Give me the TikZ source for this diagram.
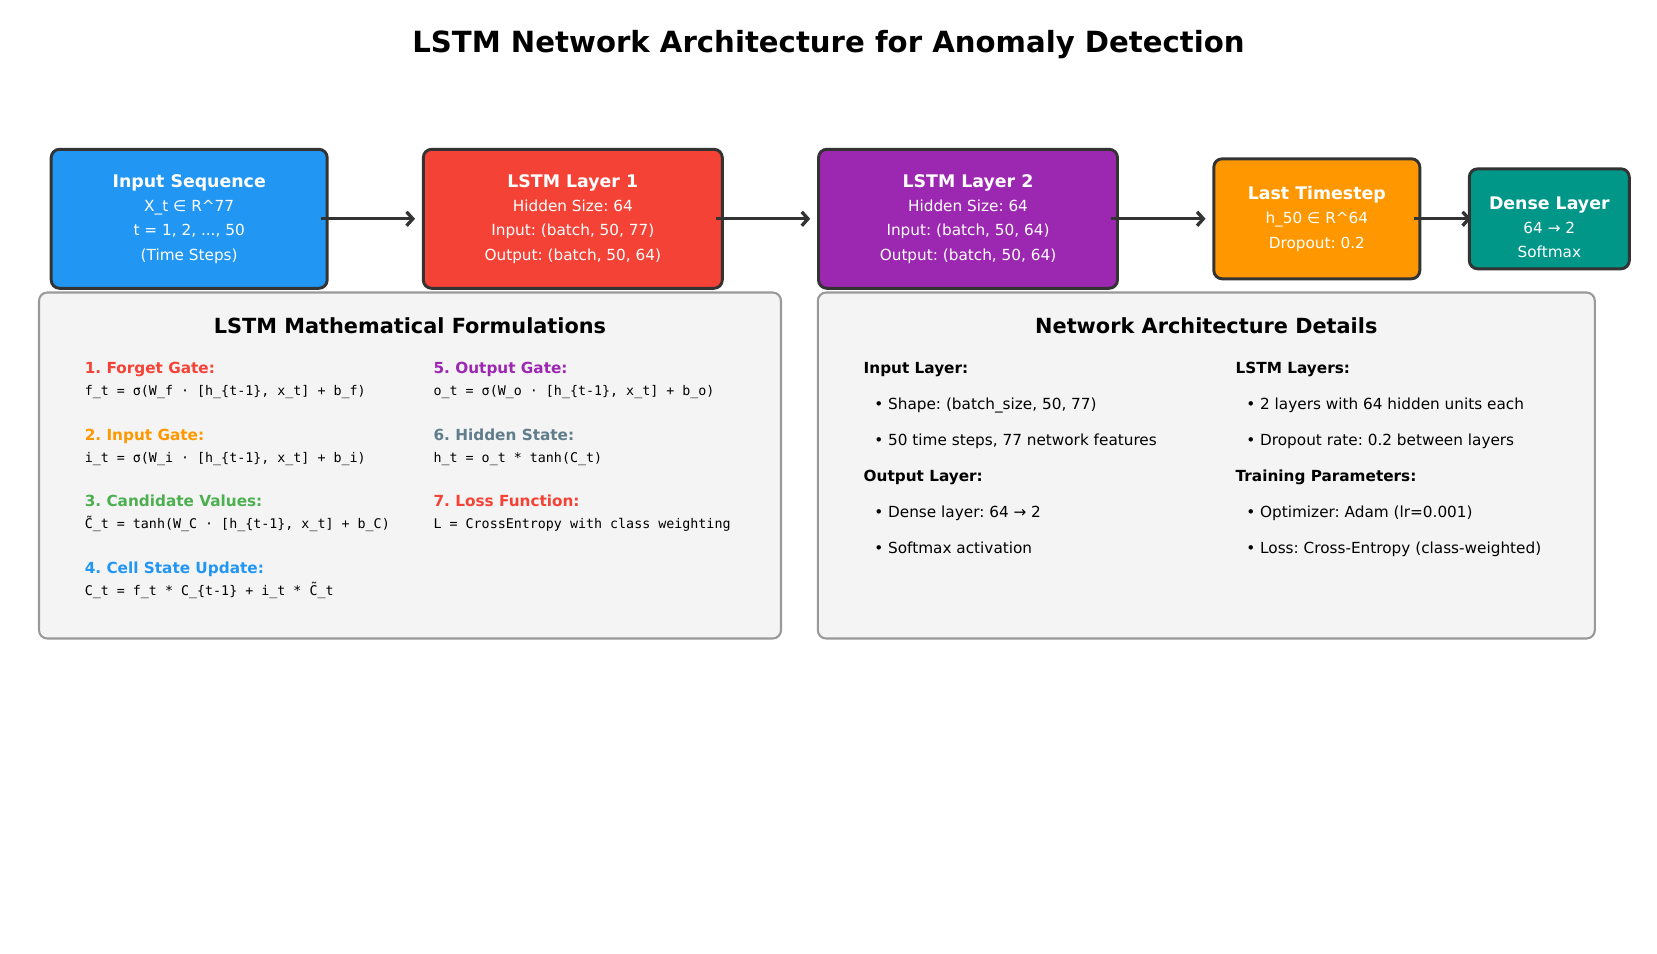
\documentclass[tikz,border=0pt]{standalone}
\usepackage{fontspec}
\setmainfont{DejaVu Sans}
\setmonofont{DejaVu Sans Mono}
\usepackage{tikz}
\usetikzlibrary{arrows.meta}
\frenchspacing

\definecolor{inblue}{HTML}{2196F3}
\definecolor{lstmred}{HTML}{F44336}
\definecolor{lstmpurple}{HTML}{9C27B0}
\definecolor{steporange}{HTML}{FF9800}
\definecolor{denseteal}{HTML}{009688}
\definecolor{candgreen}{HTML}{4CAF50}
\definecolor{hidgrey}{HTML}{607D8B}
\definecolor{edgedark}{HTML}{333333}
\definecolor{panelfill}{HTML}{F4F4F4}
\definecolor{paneledge}{HTML}{999999}

\newdimen\px \px=0.72pt
\newcommand{\laytitle}[1]{{\bfseries\fontsize{12.5}{17.5}\selectfont #1}}

\begin{document}
\begin{tikzpicture}[
    x=0.72pt, y=-0.72pt,
    layer/.style={draw=edgedark, line width=2.1pt, rounded corners=6pt, text=white, align=center,
                  inner sep=0pt, font=\fontsize{11}{17.5}\selectfont},
    laytext/.style={text=white, align=center, inner sep=0pt, font=\fontsize{11}{17.5}\selectfont},
    panel/.style={draw=paneledge, fill=panelfill, line width=1.5pt, rounded corners=6pt, inner sep=0pt},
    ptitle/.style={font=\bfseries\fontsize{15}{18}\selectfont},
    gate/.style={anchor=west, inner sep=0pt, text height=8.4pt, text depth=2.6pt,
                 font=\bfseries\fontsize{11}{13}\selectfont},
    eqn/.style={anchor=west, inner sep=0pt, text height=7.3pt, text depth=2.3pt,
                font=\ttfamily\fontsize{9.6}{12}\selectfont},
    detail/.style={anchor=west, inner sep=0pt, text height=8.4pt, text depth=2.6pt,
                   font=\fontsize{11}{13}\selectfont},
    flow/.style={draw=edgedark, line width=2.4pt, -{Straight Barb[length=4.5pt,width=10pt]}},
  ]
    \useasboundingbox (0,0) rectangle (1657,953);

    \node[font=\bfseries\fontsize{21}{25}\selectfont] (title) at (828.5,45)
      {LSTM Network Architecture for Anomaly Detection};

    % ---------- layer pipeline ----------
    \node[layer, fill=inblue, minimum width=276\px, minimum height=139\px] (inp) at (189.2,218.8)
      {\laytitle{Input Sequence}\\X\_t ∈ R\textasciicircum77\\t = 1, 2, ..., 50\\(Time Steps)};
    \node[layer, fill=lstmred, minimum width=299\px, minimum height=139\px] (l1) at (572.8,218.8)
      {\laytitle{LSTM Layer 1}\\Hidden Size: 64\\Input: (batch, 50, 77)\\Output: (batch, 50, 64)};
    \node[layer, fill=lstmpurple, minimum width=299\px, minimum height=139\px] (l2) at (968.0,218.8)
      {\laytitle{LSTM Layer 2}\\Hidden Size: 64\\Input: (batch, 50, 64)\\Output: (batch, 50, 64)};
    \node[layer, fill=steporange, minimum width=206\px, minimum height=120\px] (last) at (1316.8,218.8)
      {\laytitle{Last Timestep}\\h\_50 ∈ R\textasciicircum64\\Dropout: 0.2};
    \node[layer, fill=denseteal, minimum width=160\px, minimum height=100\px] (dense) at (1549.3,218.8) {};
    \node[laytext] (densetxt) at (1549.3,227.3) {\laytitle{Dense Layer}\\64 → 2\\Softmax};

    \foreach \a/\b/\e in {inp/l1/4.9pt, l1/l2/4.9pt, l2/last/4.9pt, last/dense/-2.3pt}
      \draw[flow, shorten <=-5.5pt, shorten >=\e] (\a) -- (\b);

    % ---------- formulations panel ----------
    \node[panel, minimum width=742\px, minimum height=346\px] (mathp) at (410,465.5) {};
    \node[ptitle] (mathttl) at (410,326) {LSTM Mathematical Formulations};

    \node[gate, text=lstmred]    (g1) at (84.5,369.8) {1. Forget Gate:};
    \node[eqn] (f1) at (84.5,392.0) {f\_t = σ(W\_f · [h\_\{t-1\}, x\_t] + b\_f)};
    \node[gate, text=steporange] (g2) at (84.5,436.3) {2. Input Gate:};
    \node[eqn] (f2) at (84.5,458.6) {i\_t = σ(W\_i · [h\_\{t-1\}, x\_t] + b\_i)};
    \node[gate, text=candgreen]  (g3) at (84.5,502.9) {3. Candidate Values:};
    \node[eqn] (f3) at (84.5,525.2) {C̃\_t = tanh(W\_C · [h\_\{t-1\}, x\_t] + b\_C)};
    \node[gate, text=inblue]     (g4) at (84.5,569.5) {4. Cell State Update:};
    \node[eqn] (f4) at (84.5,591.8) {C\_t = f\_t * C\_\{t-1\} + i\_t * C̃\_t};

    \node[gate, text=lstmpurple] (g5) at (433.3,369.8) {5. Output Gate:};
    \node[eqn] (f5) at (433.3,392.0) {o\_t = σ(W\_o · [h\_\{t-1\}, x\_t] + b\_o)};
    \node[gate, text=hidgrey]    (g6) at (433.3,436.3) {6. Hidden State:};
    \node[eqn] (f6) at (433.3,458.6) {h\_t = o\_t * tanh(C\_t)};
    \node[gate, text=lstmred]    (g7) at (433.3,502.9) {7. Loss Function:};
    \node[eqn] (f7) at (433.3,525.2) {L = CrossEntropy with class weighting};

    % ---------- details panel ----------
    \node[panel, minimum width=777\px, minimum height=346\px] (archp) at (1206.3,465.5) {};
    \node[ptitle] (archttl) at (1206.3,326) {Network Architecture Details};

    \node[gate] (inl)  at (863.4,369.8) {Input Layer:};
    \node[detail] (inl1) at (874.0,405.7) {• Shape: (batch\_size, 50, 77)};
    \node[detail] (inl2) at (874.0,441.6) {• 50 time steps, 77 network features};
    \node[gate] (outl) at (863.4,477.6) {Output Layer:};
    \node[detail] (outl1) at (874.0,513.5) {• Dense layer: 64 → 2};
    \node[detail] (outl2) at (874.0,549.4) {• Softmax activation};

    \node[gate] (lstml) at (1235.4,369.8) {LSTM Layers:};
    \node[detail] (lstml1) at (1246.0,405.7) {• 2 layers with 64 hidden units each};
    \node[detail] (lstml2) at (1246.0,441.6) {• Dropout rate: 0.2 between layers};
    \node[gate] (train) at (1235.4,477.6) {Training Parameters:};
    \node[detail] (train1) at (1246.0,513.5) {• Optimizer: Adam (lr=0.001)};
    \node[detail] (train2) at (1246.0,549.4) {• Loss: Cross-Entropy (class-weighted)};
  \end{tikzpicture}
\end{document}
